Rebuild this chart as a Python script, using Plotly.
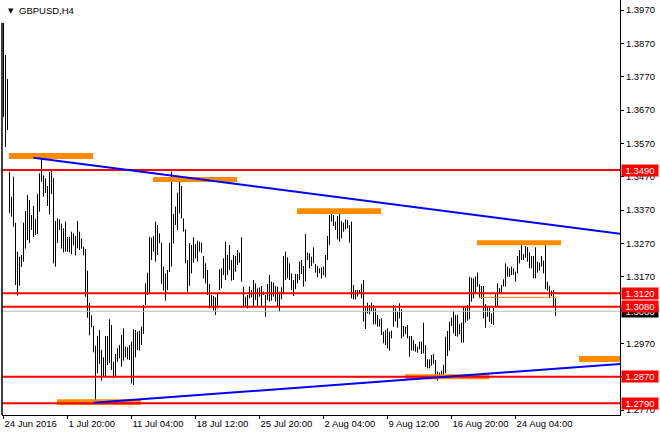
import plotly.graph_objects as go

# ---------------- data ----------------
highs = [
1.3931,1.3835,1.3763,1.3485,1.3410,1.3470,1.3332,1.3245,1.3230,1.3235,
1.3332,1.3367,1.3415,1.3400,1.3355,1.3382,1.3343,1.3418,1.3480,1.3528,
1.3474,1.3465,1.3442,1.3484,1.3493,1.3466,1.3337,1.3345,1.3342,1.3329,
1.3315,1.3335,1.3289,1.3290,1.3305,1.3300,1.3292,1.3337,1.3305,1.3285,
1.3260,1.3253,1.3188,1.3091,1.3054,1.3022,1.2963,1.2992,1.3010,1.2950,
1.2928,1.2992,1.2992,1.3042,1.3025,1.2915,1.2938,1.2955,1.2965,1.2995,
1.3015,1.2960,1.2958,1.2965,1.2975,1.3012,1.3010,1.3005,1.3008,1.3020,
1.3085,1.3150,1.3182,1.3290,1.3287,1.3292,1.3335,1.3325,1.3300,1.3272,
1.3200,1.3180,1.3190,1.3272,1.3485,1.3358,1.3380,1.3422,1.3467,1.3442,
1.3345,1.3312,1.3220,1.3270,1.3265,1.3288,1.3268,1.3278,1.3275,1.3272,
1.3232,1.3210,1.3190,1.3148,1.3115,1.3112,1.3108,1.3122,1.3192,1.3195,
1.3225,1.3275,1.3235,1.3265,1.3220,1.3235,1.3232,1.3250,1.3242,1.3288,
1.3140,1.3110,1.3115,1.3140,1.3130,1.3160,1.3150,1.3135,1.3138,1.3142,
1.3125,1.3115,1.3148,1.3175,1.3155,1.3152,1.3142,1.3140,1.3125,1.3138,
1.3232,1.3245,1.3228,1.3210,1.3180,1.3160,1.3178,1.3178,1.3215,1.3220,
1.3202,1.3298,1.3242,1.3240,1.3230,1.3258,1.3208,1.3202,1.3195,1.3198,
1.3200,1.3235,1.3292,1.3355,1.3360,1.3355,1.3335,1.3352,1.3367,1.3337,
1.3332,1.3342,1.3340,1.3325,1.3335,1.3145,1.3130,1.3130,1.3130,1.3148,
1.3160,1.3078,1.3092,1.3085,1.3092,1.3085,1.3075,1.3055,1.3042,1.3045,
1.3005,1.3010,1.3015,1.3005,1.3008,1.3085,1.3075,1.3065,1.3090,1.3072,
1.3022,1.3020,1.3025,1.2992,1.2992,1.2980,1.2968,1.2960,1.2975,1.2975,
1.3032,1.2965,1.2922,1.2922,1.2935,1.2938,1.2920,1.2885,1.2882,1.2888,
1.2905,1.2990,1.3007,1.3035,1.3047,1.3068,1.3055,1.3055,1.3028,1.3032,
1.3082,1.3077,1.3085,1.3170,1.3167,1.3165,1.3170,1.3182,1.3147,1.3142,
1.3142,1.3088,1.3082,1.3077,1.3060,1.3077,1.3118,1.3150,1.3135,1.3145,
1.3162,1.3210,1.3200,1.3195,1.3200,1.3195,1.3185,1.3232,1.3250,1.3270,
1.3238,1.3262,1.3258,1.3243,1.3232,1.3232,1.3258,1.3215,1.3212,1.3232,
1.3218,1.3278,1.3155,1.3142,1.3128,1.3130,1.3105]

lows = [
1.3649,1.3559,1.3610,1.3361,1.3350,1.3320,1.3145,1.3113,1.3143,1.3199,
1.3215,1.3254,1.3280,1.3271,1.3310,1.3289,1.3295,1.3298,1.3365,1.3455,
1.3410,1.3421,1.3382,1.3357,1.3418,1.3210,1.3200,1.3271,1.3310,1.3254,
1.3243,1.3245,1.3245,1.3243,1.3237,1.3265,1.3234,1.3255,1.3250,1.3254,
1.3234,1.3110,1.3047,1.2994,1.3018,1.2943,1.2790,1.2880,1.2908,1.2858,
1.2870,1.2868,1.2905,1.2910,1.2890,1.2865,1.2872,1.2915,1.2925,1.2900,
1.2918,1.2928,1.2922,1.2920,1.2850,1.2845,1.2928,1.2950,1.2948,1.2965,
1.2998,1.3085,1.3115,1.3120,1.3220,1.3245,1.3215,1.3235,1.3270,1.3148,
1.3128,1.3098,1.3130,1.3184,1.3200,1.3270,1.3325,1.3310,1.3360,1.3345,
1.3305,1.3210,1.3125,1.3143,1.3180,1.3212,1.3225,1.3215,1.3245,1.3242,
1.3165,1.3150,1.3115,1.3075,1.3080,1.3068,1.3055,1.3075,1.3130,1.3135,
1.3175,1.3160,1.3175,1.3190,1.3158,1.3160,1.3185,1.3205,1.3212,1.3155,
1.3080,1.3080,1.3075,1.3105,1.3108,1.3080,1.3100,1.3080,1.3110,1.3080,
1.3115,1.3050,1.3100,1.3095,1.3098,1.3110,1.3095,1.3080,1.3065,1.3102,
1.3120,1.3160,1.3165,1.3160,1.3130,1.3112,1.3132,1.3150,1.3160,1.3178,
1.3140,1.3155,1.3220,1.3195,1.3202,1.3210,1.3182,1.3168,1.3180,1.3165,
1.3175,1.3168,1.3220,1.3265,1.3335,1.3322,1.3310,1.3282,1.3275,1.3285,
1.3305,1.3312,1.3315,1.3272,1.3105,1.3102,1.3102,1.3110,1.3118,1.3105,
1.3035,1.3013,1.3060,1.3057,1.3065,1.3027,1.3027,1.3020,1.3020,1.2995,
1.2970,1.2965,1.2955,1.2948,1.2985,1.3020,1.3035,1.3017,1.3045,1.2985,
1.2990,1.2998,1.2985,1.2930,1.2948,1.2948,1.2945,1.2942,1.2952,1.2938,
1.2940,1.2899,1.2895,1.2895,1.2903,1.2908,1.2862,1.2858,1.2870,1.2872,
1.2875,1.2880,1.2932,1.2948,1.3022,1.3000,1.2992,1.2990,1.2998,1.2972,
1.2972,1.3032,1.3038,1.3042,1.3095,1.3105,1.3120,1.3140,1.3105,1.3103,
1.3045,1.3017,1.3050,1.3035,1.3028,1.3025,1.3080,1.3082,1.3120,1.3122,
1.3140,1.3140,1.3170,1.3170,1.3175,1.3175,1.3155,1.3180,1.3210,1.3220,
1.3220,1.3227,1.3215,1.3195,1.3195,1.3165,1.3165,1.3182,1.3188,1.3200,
1.3180,1.3132,1.3128,1.3105,1.3112,1.3078,1.3052]

date_tick_bars = [0, 32, 64, 96, 128, 160, 192, 224, 256]
date_labels = ["24 Jun 2016", "1 Jul 20:00", "11 Jul 04:00", "18 Jul 12:00",
               "25 Jul 20:00", "2 Aug 04:00", "9 Aug 12:00", "16 Aug 20:00",
               "24 Aug 04:00"]
price_ticks = [1.2770, 1.2870, 1.2970, 1.3070, 1.3170, 1.3270, 1.3370,
               1.3470, 1.3570, 1.3670, 1.3770, 1.3870, 1.3970]
# tick labels fully covered by price tags in the reference are left blank
hidden_ticks = [1.2870, 1.3070]

hlines = [1.3490, 1.3120, 1.3080, 1.2870, 1.2790]   # red levels
bid_price = 1.3066                                    # current price line

upper_trend = {"x": [15, 308.25], "y": [1.3527, 1.3299]}
lower_trend = {"x": [45, 308.25], "y": [1.2792, 1.2908]}

zone_x0 = [2.75, 74.75, 146.75, 236.75, 287.75, 26.75, 200.75]
zone_x1 = [44.75, 116.75, 188.75, 278.75, 308.25, 68.75, 242.75]
zone_top = [1.3541, 1.3469, 1.3375, 1.3279, 1.2932, 1.2802, 1.2877]
zone_bot = [1.3523, 1.3454, 1.3358, 1.3264, 1.2914, 1.2785, 1.2862]

thin_level = {"x": [237.75, 276.5], "y": 1.3108}

# ---------------- figure ----------------
FONT = "Liberation Sans, Arial, sans-serif"
xs, ys = [], []
for i, (h, l) in enumerate(zip(highs, lows)):
    xs += [i, i, None]
    ys += [h, l, None]

fig = go.Figure()
fig.add_trace(go.Scatter(x=xs, y=ys, mode="lines",
                         line=dict(color="black", width=1),
                         hoverinfo="skip", showlegend=False))

shapes = []
for a, b, t, bt in zip(zone_x0, zone_x1, zone_top, zone_bot):
    shapes.append(dict(type="rect", xref="x", yref="y", x0=a, x1=b, y0=bt, y1=t,
                       fillcolor="#FF8C00", line=dict(width=0), layer="above"))
shapes.append(dict(type="line", xref="x", yref="y", x0=thin_level["x"][0],
                   x1=thin_level["x"][1], y0=thin_level["y"], y1=thin_level["y"],
                   line=dict(color="#FF8C00", width=1)))
shapes.append(dict(type="line", xref="paper", yref="y", x0=0, x1=1,
                   y0=bid_price, y1=bid_price, line=dict(color="#C0C0C0", width=1)))
for p in hlines:
    shapes.append(dict(type="line", xref="paper", yref="y", x0=0, x1=1, y0=p, y1=p,
                       line=dict(color="#FF0000", width=2)))
for tr in (upper_trend, lower_trend):
    shapes.append(dict(type="line", xref="x", yref="y", x0=tr["x"][0], x1=tr["x"][1],
                       y0=tr["y"][0], y1=tr["y"][1], line=dict(color="#0000FF", width=2)))
shapes.append(dict(type="line", xref="paper", yref="paper", x0=0, x1=0, y0=0, y1=0.945,
                   line=dict(color="black", width=1.5)))

annotations = []
annotations.append(dict(xref="paper", x=1, xanchor="left", xshift=1, yref="y",
                        y=bid_price, yanchor="middle", text=f"{bid_price:.4f}",
                        showarrow=False, bgcolor="black", width=36, height=11,
                        borderpad=0, font=dict(family=FONT, size=9.5, color="white")))
for p in hlines:
    annotations.append(dict(xref="paper", x=1, xanchor="left", xshift=1, yref="y",
                            y=p, yanchor="middle", text=f"{p:.4f}",
                            showarrow=False, bgcolor="#FF0000", width=36, height=11,
                            borderpad=0, font=dict(family=FONT, size=9.5, color="white")))
annotations.append(dict(xref="paper", yref="paper", x=0, y=1, xanchor="left",
                        yanchor="top", xshift=4, yshift=-5, text="▼",
                        showarrow=False, font=dict(family="DejaVu Sans", size=7, color="black")))
annotations.append(dict(xref="paper", yref="paper", x=0, y=1, xanchor="left",
                        yanchor="top", xshift=15, yshift=-3, text="GBPUSD,H4",
                        showarrow=False, font=dict(family=FONT, size=9.5, color="black")))

tick_text = ["" if any(abs(v - h) < 1e-9 for h in hidden_ticks) else f"{v:.4f}"
             for v in price_ticks]

fig.update_layout(
    width=660, height=436,
    margin=dict(l=2, r=40, t=0, b=21, pad=0, autoexpand=False),
    paper_bgcolor="white", plot_bgcolor="white",
    shapes=shapes, annotations=annotations,
    showlegend=False,
    font=dict(family=FONT, size=9.5, color="black"),
    xaxis=dict(range=[-0.75, 308.25], tickvals=date_tick_bars, ticktext=date_labels,
               ticks="outside", ticklen=3, tickcolor="black", tickwidth=1,
               ticklabelposition="outside right", tickangle=0, automargin=False,
               showline=True, linecolor="black", linewidth=1,
               showgrid=False, zeroline=False, fixedrange=True,
               tickfont=dict(family=FONT, size=9.5, color="black")),
    yaxis=dict(range=[1.2755, 1.4000], side="right", automargin=False,
               tickvals=price_ticks, ticktext=tick_text,
               ticks="outside", ticklen=3, tickcolor="black", tickwidth=1,
               showline=True, linecolor="black", linewidth=1,
               showgrid=False, zeroline=False, fixedrange=True,
               tickfont=dict(family=FONT, size=9.5, color="black")),
)

fig.write_html("out.html", config={"displayModeBar": False, "staticPlot": True})
